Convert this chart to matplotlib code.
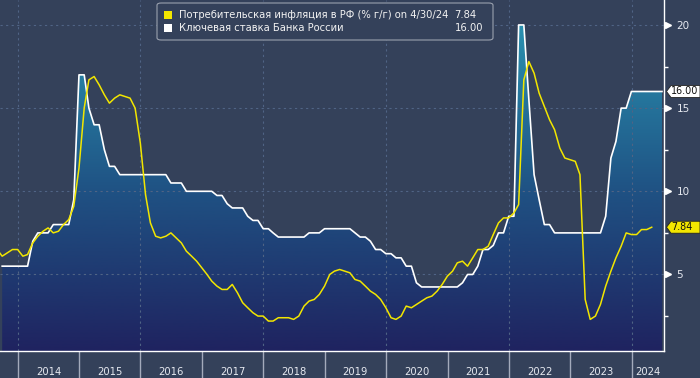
import numpy as np
import pandas as pd
import matplotlib
matplotlib.use("Agg")
import matplotlib.pyplot as plt
import matplotlib.dates as mdates
import matplotlib.patches as mpatches
from matplotlib.colors import LinearSegmentedColormap
from matplotlib.transforms import blended_transform_factory

# -------------------------------
# Данные (месячные, на конец месяца)
# -------------------------------
cpi_start = "2013-08-31"
cpi = [6.5, 6.1, 6.3, 6.5, 6.5,
       6.1, 6.2, 6.9, 7.3, 7.6, 7.8, 7.5, 7.6, 8.0, 8.3, 9.1, 11.4,
       15.0, 16.7, 16.9, 16.4, 15.8, 15.3, 15.6, 15.8, 15.7, 15.6, 15.0, 12.9,
       9.8, 8.1, 7.3, 7.2, 7.3, 7.5, 7.2, 6.9, 6.4, 6.1, 5.8, 5.4,
       5.0, 4.6, 4.3, 4.1, 4.1, 4.4, 3.9, 3.3, 3.0, 2.7, 2.5, 2.5,
       2.2, 2.2, 2.4, 2.4, 2.4, 2.3, 2.5, 3.1, 3.4, 3.5, 3.8, 4.3,
       5.0, 5.2, 5.3, 5.2, 5.1, 4.7, 4.6, 4.3, 4.0, 3.8, 3.5, 3.0,
       2.4, 2.3, 2.5, 3.1, 3.0, 3.2, 3.4, 3.6, 3.7, 4.0, 4.4, 4.9,
       5.2, 5.7, 5.8, 5.5, 6.0, 6.5, 6.5, 6.7, 7.4, 8.1, 8.4, 8.4,
       8.7, 9.2, 16.7, 17.8, 17.1, 15.9, 15.1, 14.3, 13.7, 12.6, 12.0, 11.9,
       11.8, 11.0, 3.5, 2.3, 2.5, 3.2, 4.3, 5.2, 6.0, 6.7, 7.5, 7.4,
       7.4, 7.7, 7.7, 7.84]

rate_start = "2013-09-30"
rate = [5.5, 5.5, 5.5, 5.5,
        5.5, 5.5, 7.0, 7.5, 7.5, 7.5, 8.0, 8.0, 8.0, 8.0, 9.5, 17.0,
        17.0, 15.0, 14.0, 14.0, 12.5, 11.5, 11.5, 11.0, 11.0, 11.0, 11.0, 11.0,
        11.0, 11.0, 11.0, 11.0, 11.0, 10.5, 10.5, 10.5, 10.0, 10.0, 10.0, 10.0,
        10.0, 10.0, 9.75, 9.75, 9.25, 9.0, 9.0, 9.0, 8.5, 8.25, 8.25, 7.75,
        7.75, 7.5, 7.25, 7.25, 7.25, 7.25, 7.25, 7.25, 7.5, 7.5, 7.5, 7.75,
        7.75, 7.75, 7.75, 7.75, 7.75, 7.5, 7.25, 7.25, 7.0, 6.5, 6.5, 6.25,
        6.25, 6.0, 6.0, 5.5, 5.5, 4.5, 4.25, 4.25, 4.25, 4.25, 4.25, 4.25,
        4.25, 4.25, 4.5, 5.0, 5.0, 5.5, 6.5, 6.5, 6.75, 7.5, 7.5, 8.5,
        8.5, 20.0, 20.0, 15.5, 11.0, 9.5, 8.0, 8.0, 7.5, 7.5, 7.5, 7.5,
        7.5, 7.5, 7.5, 7.5, 7.5, 7.5, 8.5, 12.0, 13.0, 15.0, 15.0, 16.0,
        16.0, 16.0, 16.0, 16.0, 16.0, 16.0]

years = list(range(2014, 2025))
cpi_label = "Потребительская инфляция в РФ (% г/г) on 4/30/24"
rate_label = "Ключевая ставка Банка России"
cpi_last = "7.84"
rate_last = "16.00"

# -------------------------------
# Оформление
# -------------------------------
BG = "#34415a"
YELLOW = "#f2e600"
GRID = "#506485"
plt.rcParams["font.family"] = ["DejaVu Sans"]

x_cpi = mdates.date2num(pd.date_range(cpi_start, periods=len(cpi), freq="ME"))
x_rate = mdates.date2num(pd.date_range(rate_start, periods=len(rate), freq="ME"))

xmin = mdates.date2num(pd.Timestamp("2013-09-17"))
xmax = mdates.date2num(pd.Timestamp("2024-07-12"))
ymin, ymax = 0.4, 21.5

fig = plt.figure(figsize=(7.0, 3.78), dpi=100, facecolor=BG)
ax = fig.add_axes([0.0, 1 - 351 / 378, 664 / 700, 351 / 378])
ax.set_facecolor(BG)
ax.set_xlim(xmin, xmax)
ax.set_ylim(ymin, ymax)

# градиентная заливка под ключевой ставкой
cmap = LinearSegmentedColormap.from_list(
    "kr", [(0.0, "#1f2360"), (0.45, "#1f5183"), (1.0, "#2b9ab6")])
grad = np.linspace(0, 1, 256).reshape(-1, 1)
im = ax.imshow(grad, cmap=cmap, origin="lower", aspect="auto",
               extent=[xmin, xmax, ymin, ymax], zorder=1)
poly = ax.fill_between(x_rate, rate, ymin, facecolor="none", edgecolor="none")
im.set_clip_path(poly.get_paths()[0], transform=ax.transData)

# сетка
for y in [5, 10, 15, 20]:
    ax.axhline(y, color=GRID, lw=0.8, ls=(0, (2, 3)), zorder=2)
for yr in years[::2]:
    ax.axvline(mdates.date2num(pd.Timestamp(f"{yr}-01-01")), color=GRID,
               lw=0.8, ls=(0, (2, 3)), zorder=2)

# линии
ax.plot(x_rate, rate, color="white", lw=1.2, zorder=3)
ax.plot(x_cpi, cpi, color=YELLOW, lw=1.1, zorder=4)

# оси
for s in ["top", "left"]:
    ax.spines[s].set_visible(False)
ax.spines["right"].set_color("white")
ax.spines["bottom"].set_color("white")
ax.spines["right"].set_linewidth(1.0)
ax.spines["bottom"].set_linewidth(1.0)

ax.yaxis.tick_right()
ax.set_yticks([5, 10, 15, 20])
ax.set_yticks([2.5, 7.5, 12.5, 17.5], minor=True)
ax.tick_params(axis="y", which="major", length=0, pad=9,
               labelsize=7.5, labelcolor="#e6e9f0")
ax.tick_params(axis="y", which="minor", length=3, width=1,
               color="white", direction="out")
tr_y = blended_transform_factory(ax.transAxes, ax.transData)
ax.plot([1.0065] * 4, [5, 10, 15, 20], ">", color="white", ms=4.5,
        transform=tr_y, clip_on=False, zorder=5)

year_starts = [mdates.date2num(pd.Timestamp(f"{yr}-01-01")) for yr in years]
ax.set_xticks(year_starts)
ax.set_xticklabels([])
ax.tick_params(axis="x", which="major", length=20, width=1,
               color="#a3aabb", direction="out")
edges = year_starts + [xmax]
tr_x = ax.get_xaxis_transform()
for i, yr in enumerate(years):
    ax.text((edges[i] + edges[i + 1]) / 2, -0.06, str(yr), transform=tr_x,
            ha="center", va="center", fontsize=7.2, color="#e6e9f0")

# метки последних значений
tr_tag = blended_transform_factory(fig.transFigure, ax.transData)
for val, txt, fc in [(16.0, rate_last, "white"), (7.84, cpi_last, YELLOW)]:
    h = 0.36
    pts = [(666.5 / 700, val), (671 / 700, val + h), (1.0, val + h),
           (1.0, val - h), (671 / 700, val - h)]
    tag = mpatches.Polygon(pts, closed=True, facecolor=fc, edgecolor="#222222",
                           lw=0.6, transform=tr_tag, clip_on=False, zorder=6)
    ax.add_patch(tag)
    ax.text(671 / 700, val, txt, transform=tr_tag, ha="left", va="center",
            fontsize=6.9, color="#111111", zorder=7, clip_on=False)

# легенда
W, H = 700.0, 378.0
box = mpatches.FancyBboxPatch((157 / W, 1 - 40 / H), (493 - 157) / W, 37 / H,
                              boxstyle="round,pad=0,rounding_size=0.006",
                              transform=fig.transFigure, facecolor=BG,
                              edgecolor="#9aa1ae", lw=0.8, zorder=10)
fig.patches.append(box)
rows = [(15, YELLOW, cpi_label, cpi_last, 476),
        (28, "white", rate_label, rate_last, 483)]
for yc, col, lab, val, xr in rows:
    fig.patches.append(mpatches.Rectangle((164 / W, 1 - (yc + 4) / H), 8 / W, 8 / H,
                                          transform=fig.transFigure,
                                          facecolor=col, edgecolor="none", zorder=11))
    fig.text(179 / W, 1 - yc / H, lab, ha="left", va="center", fontsize=7.2,
             color="#f2f2f2", zorder=12)
    fig.text(xr / W, 1 - yc / H, val, ha="right", va="center", fontsize=7.2,
             color="#f2f2f2", zorder=12)

fig.savefig("out.png", dpi=100, facecolor=BG)
